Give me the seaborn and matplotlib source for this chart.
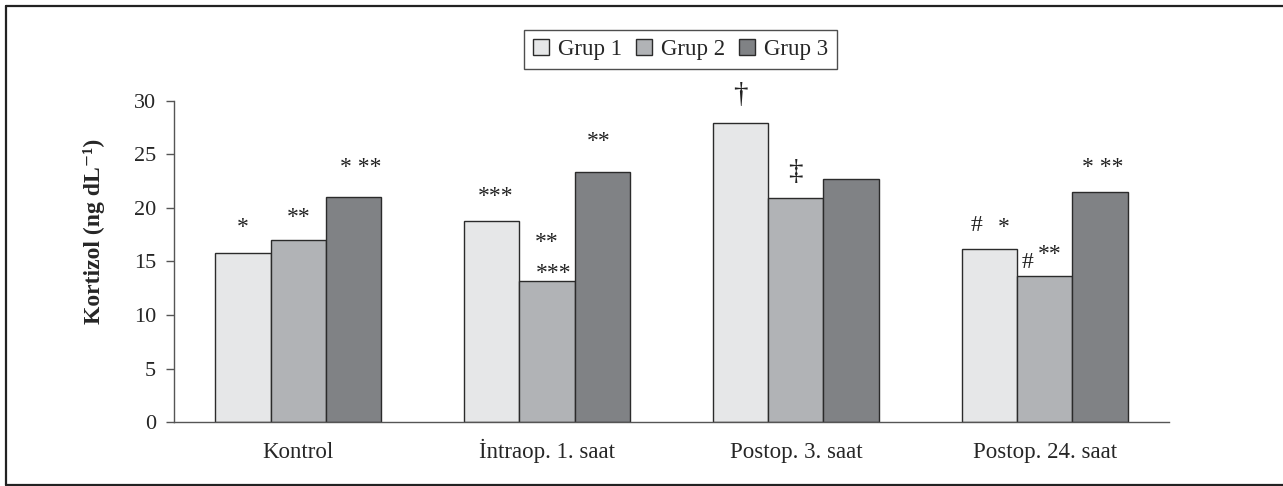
import numpy as np
import pandas as pd
import matplotlib
matplotlib.use("Agg")
import matplotlib.pyplot as plt
from matplotlib.lines import Line2D
import seaborn as sns

# values
categories = ["Kontrol", "İntraop. 1. saat", "Postop. 3. saat", "Postop. 24. saat"]
groups = ["Grup 1", "Grup 2", "Grup 3"]
grup1 = [15.8, 18.75, 27.9, 16.2]
grup2 = [17.0, 13.2, 20.9, 13.6]
grup3 = [21.0, 23.35, 22.7, 21.5]
colors = ["#e6e7e8", "#b1b3b6", "#808285"]

# significance marks: (category, group, text, x shift, y)
marks = [
    (0, 0, "*", 0.0, 17.65),
    (0, 1, "**", 0.0, 18.6),
    (0, 2, "* **", 0.028, 23.25),
    (1, 0, "***", 0.016, 20.55),
    (1, 1, "**", 0.0, 16.25),
    (1, 1, "***", 0.028, 13.35),
    (1, 2, "**", -0.016, 25.65),
    (2, 0, "†", 0.0, 29.9),
    (2, 1, "‡", 0.0, 22.7),
    (3, 0, "#", -0.051, 17.85),
    (3, 0, "*", 0.058, 17.65),
    (3, 1, "#", -0.068, 14.35),
    (3, 1, "**", 0.021, 15.15),
    (3, 2, "* **", 0.013, 23.25),
]

df = pd.DataFrame({
    "kategori": np.repeat(categories, 3),
    "grup": groups * 4,
    "deger": [v for trio in zip(grup1, grup2, grup3) for v in trio],
})

sns.set_style("white")
plt.rcParams["font.family"] = ["Liberation Serif", "DejaVu Serif"]

fig = plt.figure(figsize=(12.83, 4.86), dpi=100)
ax = fig.add_axes([0.1356, 0.1311, 0.7755, 0.6617])

bar_w = 0.667
sns.barplot(data=df, x="kategori", y="deger", hue="grup", order=categories,
            hue_order=groups, palette=colors, width=bar_w, gap=0,
            edgecolor="#2b2b2b", linewidth=1.0, saturation=1, ax=ax,
            errorbar=None, legend=False)

ax.set_ylim(0, 30)
ax.set_xlim(-0.5, 3.5)
ax.set_yticks(range(0, 31, 5))
ax.set_xticks(range(4))
ax.set_xticklabels(categories, va="baseline")
ax.set_xticks(np.arange(-0.5, 4, 1), minor=True)
ax.tick_params(axis="x", which="major", length=0, pad=26, labelsize=16.5)
ax.tick_params(axis="x", which="minor", length=7, width=1, color="#555555", direction="out")
ax.tick_params(axis="y", length=6, width=1, color="#555555", direction="out",
               labelsize=16, pad=7, left=True)
ax.set_xlabel("")
ax.set_ylabel("Kortizol (ng dL⁻¹)", fontsize=17, fontweight="bold")
ax.yaxis.set_label_coords(-0.069, 0.595)
for side in ["top", "right"]:
    ax.spines[side].set_visible(False)
for side in ["left", "bottom"]:
    ax.spines[side].set_color("#555555")
    ax.spines[side].set_linewidth(1.0)

sub = bar_w / 3
for cat, grp, txt, dx, y in marks:
    x = cat + (grp - 1) * sub + dx
    fs = 21 if txt in ("†", "‡") else 17
    ax.text(x, y, txt, ha="center", va="baseline", fontsize=fs, color="#222222")

handles = [plt.Rectangle((0, 0), 1, 1, facecolor=c, edgecolor="#2b2b2b", linewidth=1.0)
           for c in colors]
leg = fig.legend(handles, groups, loc="center", bbox_to_anchor=(0.5304, 0.898),
                 ncol=3, fontsize=16.5, frameon=True, fancybox=False,
                 handlelength=0.7, handleheight=0.7, handletextpad=0.4,
                 columnspacing=0.6, borderpad=0.4)
leg.get_frame().set_edgecolor("#222222")
leg.get_frame().set_linewidth(1.0)

# outer frame of the figure (right edge cut off in the original)
for xs, ys in [([0.005, 0.005], [0.002, 0.988]),
               ([0.005, 1.0], [0.988, 0.988]),
               ([0.005, 1.0], [0.002, 0.002])]:
    fig.add_artist(Line2D(xs, ys, color="#222222", linewidth=1.6,
                          transform=fig.transFigure))

fig.savefig("out.png", dpi=100)
